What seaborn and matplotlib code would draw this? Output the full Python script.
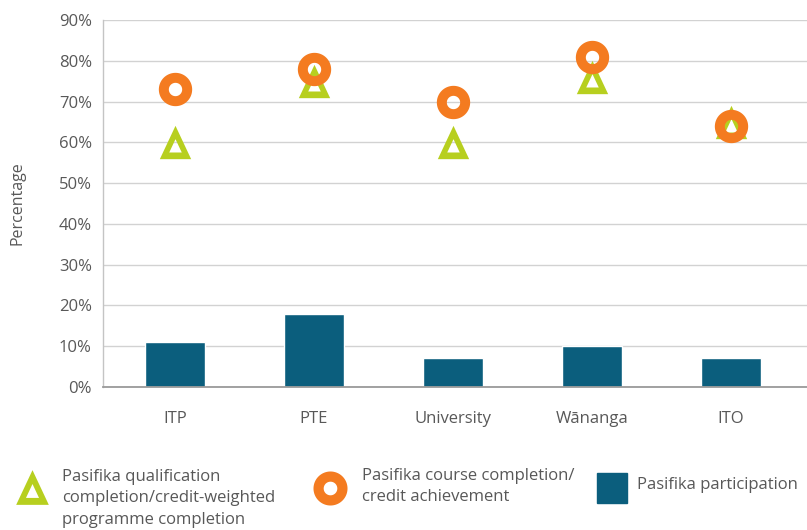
import numpy as np
import matplotlib
matplotlib.use("Agg")
import matplotlib.pyplot as plt
from matplotlib.path import Path
from matplotlib.lines import Line2D
from matplotlib.patches import Rectangle
import seaborn as sns

# data (percent)
categories = ["ITP", "PTE", "University", "Wānanga", "ITO"]
participation = [11, 18, 7, 10, 7]
qualification = [60, 75, 60, 76, 65]
course = [73, 78, 70, 81, 64]
yticks = [0, 10, 20, 30, 40, 50, 60, 70, 80, 90]

label_qual = "Pasifika qualification\ncompletion/credit-weighted\nprogramme completion"
label_course = "Pasifika course completion/\ncredit achievement"
label_part = "Pasifika participation"

GREEN = "#b7cf1f"
ORANGE = "#f47b20"
TEAL = "#0b5e7d"
GREY = "#585858"


def ring(inner=0.4, n=90):
    # circle with a transparent hole
    t = np.linspace(0, 2 * np.pi, n, endpoint=False)
    outer = np.column_stack([np.cos(t), np.sin(t)]) * 0.5
    hole = outer[::-1] * inner
    verts = np.vstack([outer, outer[:1], hole, hole[:1]])
    codes = ([Path.MOVETO] + [Path.LINETO] * (n - 1) + [Path.CLOSEPOLY]) * 2
    return Path(verts, codes)


def hollow_triangle(inner=0.4, w=0.47, h=0.5):
    outer = np.array([[0, h], [-w, -h], [w, -h]])
    c = outer.mean(axis=0)
    hole = (c + inner * (outer - c))[::-1]
    verts = np.vstack([outer, outer[:1], hole, hole[:1]])
    codes = [Path.MOVETO, Path.LINETO, Path.LINETO, Path.CLOSEPOLY] * 2
    return Path(verts, codes)


RING = ring(0.4)
TRI = hollow_triangle(0.4)

sns.set_style("white")
plt.rcParams["font.family"] = ["Open Sans", "DejaVu Sans"]

fig = plt.figure(figsize=(8.07, 5.30), dpi=100)
ax = fig.add_axes([103 / 807, 1 - 387 / 530, 704 / 807, 367 / 530])

sns.barplot(x=categories, y=participation, color=TEAL, saturation=1,
            width=0.43, ax=ax, zorder=2)

xpos = np.arange(len(categories))
sns.scatterplot(x=xpos, y=qualification, marker=TRI, s=24 ** 2, color=GREEN,
                linewidth=0, ax=ax, zorder=3, legend=False)
sns.scatterplot(x=xpos, y=course, marker=RING, s=24 ** 2, color=ORANGE,
                linewidth=0, ax=ax, zorder=4, legend=False)

ax.set_xlim(-0.518, 4.547)
ax.set_ylim(0, 90)
ax.set_yticks(yticks)
ax.set_yticklabels([f"{v}%" for v in yticks])
ax.set_xticks(xpos)
ax.set_xticklabels(categories)
ax.tick_params(axis="both", length=0, labelsize=12, labelcolor=GREY)
ax.tick_params(axis="x", pad=17)
ax.tick_params(axis="y", pad=8)
ax.set_xlabel("")
ax.set_ylabel("Percentage", fontsize=11.5, color=GREY)
ax.yaxis.set_label_coords(-0.11, 0.5)

ax.set_axisbelow(True)
ax.yaxis.grid(True, color="#d2d2d2", linewidth=1)
ax.xaxis.grid(False)
for side in ["top", "right"]:
    ax.spines[side].set_visible(False)
ax.spines["left"].set_color("#c4c4c4")
ax.spines["left"].set_linewidth(1)
ax.spines["bottom"].set_color("#9a9a9a")
ax.spines["bottom"].set_linewidth(1.3)

# legend drawn below the plot
def fx(px):
    return px / 807


def fy(py):
    return 1 - py / 530


fig.add_artist(Line2D([fx(32)], [fy(487)], marker=TRI, markersize=25,
                      color=GREEN, markeredgewidth=0, linestyle="none",
                      transform=fig.transFigure))
fig.add_artist(Line2D([fx(330)], [fy(488)], marker=RING, markersize=24.5,
                      color=ORANGE, markeredgewidth=0, linestyle="none",
                      transform=fig.transFigure))
fig.add_artist(Rectangle((fx(597), fy(503)), 30 / 807, 30 / 530,
                         color=TEAL, transform=fig.transFigure))

fig.text(fx(62), fy(498.5), label_qual, fontsize=12, color=GREY,
         va="center", ha="left", linespacing=1.45)
fig.text(fx(362), fy(486.5), label_course, fontsize=12, color=GREY,
         va="center", ha="left", linespacing=1.45)
fig.text(fx(637), fy(485), label_part, fontsize=12, color=GREY,
         va="center", ha="left")

fig.savefig("out.png", dpi=100)
